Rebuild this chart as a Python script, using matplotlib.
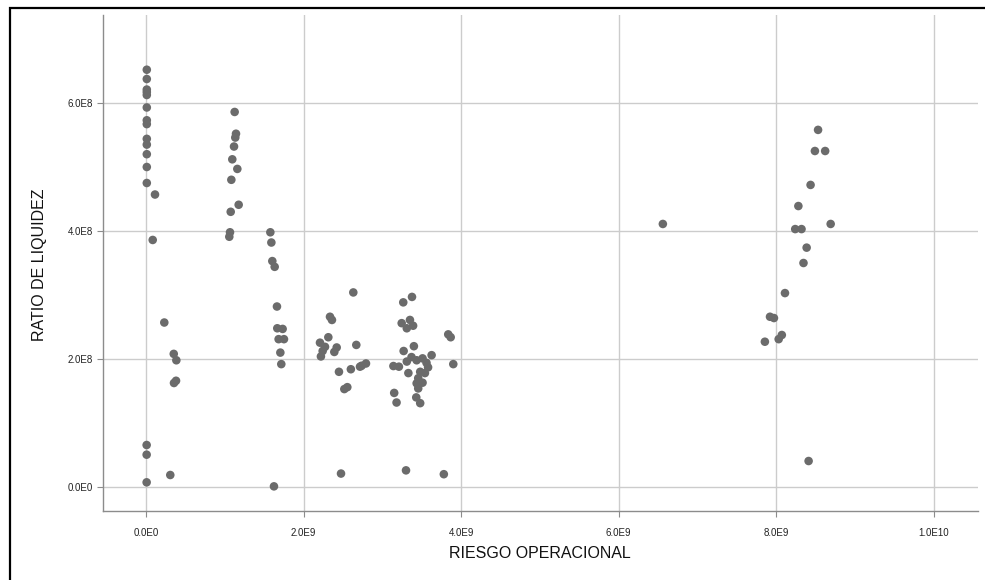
import matplotlib
matplotlib.use("Agg")
import matplotlib.pyplot as plt
from matplotlib.patches import Rectangle

# RIESGO OPERACIONAL (units of 1e9) and RATIO DE LIQUIDEZ (units of 1e8)
riesgo_g1 = [0.01, 0.01, 0.01, 0.01, 0.01, 0.01, 0.01, 0.01, 0.01, 0.01, 0.01, 0.01, 0.01,
             0.114, 0.085, 0.232, 0.352, 0.385, 0.355, 0.381, 0.008, 0.008, 0.008, 0.308]
ratio_g1 = [6.52, 6.375, 6.21, 6.17, 6.125, 5.93, 5.73, 5.67, 5.44, 5.35, 5.20, 5.00, 4.75,
            4.57, 3.86, 2.57, 2.08, 1.98, 1.625, 1.66, 0.656, 0.505, 0.073, 0.1875]

riesgo_g2 = [1.125, 1.142, 1.133, 1.117, 1.095, 1.159, 1.083, 1.176, 1.075, 1.066, 1.057,
             1.578, 1.591, 1.603, 1.633, 1.662, 1.666, 1.734, 1.683, 1.751, 1.705, 1.717, 1.624]
ratio_g2 = [5.86, 5.52, 5.46, 5.32, 5.12, 4.97, 4.80, 4.41, 4.30, 3.98, 3.91,
            3.98, 3.82, 3.53, 3.44, 2.82, 2.48, 2.47, 2.31, 2.31, 2.10, 1.92, 0.01]

riesgo_g3 = [2.631, 2.335, 2.36, 2.314, 2.208, 2.272, 2.42, 2.669, 2.242, 2.39, 2.22,
             2.449, 2.60, 2.737, 2.792, 2.716, 2.517, 2.555, 2.475]
ratio_g3 = [3.04, 2.66, 2.61, 2.34, 2.255, 2.19, 2.18, 2.22, 2.125, 2.11, 2.04,
            1.80, 1.84, 1.895, 1.93, 1.88, 1.53, 1.56, 0.21]

riesgo_g4 = [3.265, 3.376, 3.245, 3.35, 3.39, 3.31, 3.40, 3.27, 3.14, 3.21, 3.31, 3.37,
             3.15, 3.18, 3.33, 3.435, 3.51, 3.43, 3.48, 3.836, 3.867, 3.625, 3.435,
             3.56, 3.90, 3.48, 3.58, 3.54, 3.455, 3.455, 3.30, 3.78, 3.51]
ratio_g4 = [2.885, 2.97, 2.56, 2.61, 2.52, 2.48, 2.20, 2.125, 1.89, 1.88, 1.96, 2.03,
            1.47, 1.32, 1.78, 1.62, 1.63, 1.40, 1.31, 2.385, 2.34, 2.06, 1.98,
            1.94, 1.92, 1.80, 1.87, 1.78, 1.70, 1.54, 0.26, 0.20, 2.01]

riesgo_g5 = [6.56, 8.53, 8.49, 8.62, 8.435, 8.28, 8.24, 8.32, 8.69, 8.385, 8.345, 8.11,
             7.92, 7.97, 8.07, 8.03, 7.855, 8.41]
ratio_g5 = [4.11, 5.58, 5.25, 5.25, 4.72, 4.39, 4.03, 4.03, 4.11, 3.74, 3.50, 3.03,
            2.66, 2.64, 2.375, 2.31, 2.27, 0.406]

x_ticks = [0, 2e9, 4e9, 6e9, 8e9, 1e10]
x_labels = ["0.0E0", "2.0E9", "4.0E9", "6.0E9", "8.0E9", "1.0E10"]
y_ticks = [0, 2e8, 4e8, 6e8]
y_labels = ["0.0E0", "2.0E8", "4.0E8", "6.0E8"]

xs = [v * 1e9 for v in riesgo_g1 + riesgo_g2 + riesgo_g3 + riesgo_g4 + riesgo_g5]
ys = [v * 1e8 for v in ratio_g1 + ratio_g2 + ratio_g3 + ratio_g4 + ratio_g5]

plt.rcParams['font.family'] = ['Liberation Sans', 'DejaVu Sans']

fig = plt.figure(figsize=(9.85, 5.8), dpi=100)
ax = fig.add_axes([103/985, 1 - 511/580, (978 - 103)/985, (511 - 15)/580])

ax.scatter(xs, ys, s=38, color='#6b6b6b', edgecolors='none', zorder=3)

ax.set_xlim(-0.546e9, 10.56e9)
ax.set_ylim(-0.375e8, 7.375e8)
ax.set_xticks(x_ticks)
ax.set_xticklabels(x_labels)
ax.set_yticks(y_ticks)
ax.set_yticklabels(y_labels)
ax.grid(True, color='#cccccc', linewidth=1.0, zorder=0)
ax.set_axisbelow(True)
for s in ['top', 'right']:
    ax.spines[s].set_visible(False)
for s in ['left', 'bottom']:
    ax.spines[s].set_color('#8c8c8c')
    ax.spines[s].set_linewidth(1.0)
ax.tick_params(axis='both', labelsize=7, colors='#8c8c8c', labelcolor='#222222',
               length=4, width=0.8, pad=3)
ax.tick_params(axis='x', pad=8)

fig.text(540/985, 1 - 553/580, "RIESGO OPERACIONAL", ha='center', va='center',
         fontsize=11.5, color='#111111', fontweight='medium')
fig.text(40/985, 1 - 265/580, "RATIO DE LIQUIDEZ", ha='center', va='center',
         fontsize=11.5, color='#111111', rotation=90, fontweight='medium')

fig.patches.append(Rectangle((10/985, -0.1), 1.2, 1 - 8/580 + 0.1,
                             transform=fig.transFigure, fill=False,
                             edgecolor='black', linewidth=1.6, figure=fig))

fig.savefig("out.png", dpi=100, facecolor='white')
